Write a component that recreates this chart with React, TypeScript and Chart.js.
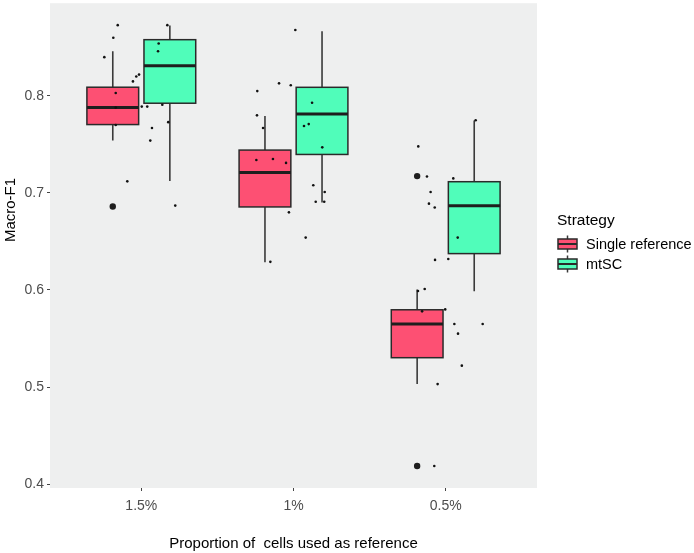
import React, { useEffect, useRef } from 'react';
import { Chart, registerables } from 'chart.js';

Chart.register(...registerables);

const categories = ['1.5%', '1%', '0.5%'];
const seriesNames = ['Single reference', 'mtSC'];
const seriesColors = ['#FD5073', '#50FDBA'];
const yTickValues = [0.4, 0.5, 0.6, 0.7, 0.8];

// [lower whisker, Q1, median, Q3, upper whisker] per category
const singleBoxes = [
  [0.754, 0.7705, 0.788, 0.809, 0.846],
  [0.6286, 0.6856, 0.7212, 0.7442, 0.7794],
  [0.5031, 0.5302, 0.5649, 0.5796, 0.6005],
];
const mtscBoxes = [
  [0.7123, 0.7925, 0.831, 0.858, 0.8727],
  [0.6903, 0.7397, 0.7815, 0.8089, 0.8668],
  [0.5988, 0.6375, 0.6869, 0.7116, 0.7746],
];
const singleOutliers = [[0.686], [], [0.7174, 0.4185]];
const mtscOutliers = [[], [], []];

// jittered raw points: offset from category centre (category units) and value
const jitterOffsets15 = [-0.155, -0.184, -0.243, -0.168, -0.168, -0.168, -0.092, -0.186, -0.055, -0.033, -0.015, 0.003, 0.039, 0.07, 0.059, 0.171, 0.114, 0.11, 0.138, 0.177, 0.223];
const jitterValues15 = [0.873, 0.86, 0.84, 0.803, 0.788, 0.77, 0.712, 0.686, 0.815, 0.82, 0.822, 0.789, 0.789, 0.767, 0.754, 0.873, 0.854, 0.846, 0.791, 0.773, 0.687];
const jitterOffsets1 = [0.012, -0.095, -0.018, -0.238, -0.24, -0.2, 0.122, 0.069, 0.1, 0.189, -0.244, -0.135, -0.049, 0.13, 0.205, 0.146, 0.202, -0.03, 0.08, -0.152];
const jitterValues1 = [0.868, 0.813, 0.811, 0.805, 0.78, 0.767, 0.793, 0.769, 0.771, 0.747, 0.734, 0.735, 0.731, 0.708, 0.701, 0.691, 0.691, 0.68, 0.654, 0.629];
const jitterOffsets05 = [0.197, -0.18, -0.123, 0.05, -0.099, -0.11, -0.072, 0.079, -0.07, 0.017, -0.182, -0.138, -0.155, -0.003, 0.057, 0.243, 0.081, 0.106, -0.053, -0.075];
const jitterValues05 = [0.775, 0.748, 0.717, 0.715, 0.701, 0.689, 0.685, 0.654, 0.631, 0.632, 0.599, 0.601, 0.578, 0.58, 0.565, 0.565, 0.555, 0.522, 0.503, 0.4185];

const FONT = "'Liberation Sans', Arial, Helvetica, sans-serif";
const DODGE = 0.1875;
const BOX_HALF = 0.17;
const Y_MIN = 0.3959;
const Y_MAX = 0.8956;

const allBoxes = [singleBoxes, mtscBoxes];
const allOutliers = [singleOutliers, mtscOutliers];

const boxPlugin = {
  id: 'ggBoxes',
  beforeDraw(chart: any) {
    const { ctx, chartArea } = chart;
    ctx.save();
    ctx.fillStyle = '#ffffff';
    ctx.fillRect(0, 0, chart.width, chart.height);
    ctx.fillStyle = '#EEEFEF';
    ctx.fillRect(chartArea.left, chartArea.top, chartArea.right - chartArea.left, chartArea.bottom - chartArea.top);
    ctx.restore();
  },
  beforeDatasetsDraw(chart: any) {
    const { ctx, scales } = chart;
    const x = scales.x;
    const y = scales.y;
    ctx.save();
    allBoxes.forEach((boxes, s) => {
      boxes.forEach((b, c) => {
        const cx = c + 1 + (s === 0 ? -DODGE : DODGE);
        const xl = x.getPixelForValue(cx - BOX_HALF);
        const xr = x.getPixelForValue(cx + BOX_HALF);
        const xm = x.getPixelForValue(cx);
        const [lo, q1, med, q3, hi] = b.map((v) => y.getPixelForValue(v));
        ctx.strokeStyle = '#3a3a3a';
        ctx.lineWidth = 1.6;
        ctx.beginPath();
        ctx.moveTo(xm, lo);
        ctx.lineTo(xm, q1);
        ctx.moveTo(xm, q3);
        ctx.lineTo(xm, hi);
        ctx.stroke();
        ctx.fillStyle = seriesColors[s];
        ctx.fillRect(xl, q3, xr - xl, q1 - q3);
        ctx.strokeStyle = '#2a2a2a';
        ctx.lineWidth = 1.5;
        ctx.strokeRect(xl, q3, xr - xl, q1 - q3);
        ctx.lineWidth = 3;
        ctx.strokeStyle = '#1e1e1e';
        ctx.beginPath();
        ctx.moveTo(xl, med);
        ctx.lineTo(xr, med);
        ctx.stroke();
      });
    });
    ctx.restore();
  },
  afterDraw(chart: any) {
    const { ctx, chartArea } = chart;
    ctx.save();
    // y axis title
    ctx.translate(15, 210);
    ctx.rotate(-Math.PI / 2);
    ctx.fillStyle = '#000000';
    ctx.font = `15px ${FONT}`;
    ctx.textAlign = 'center';
    ctx.textBaseline = 'alphabetic';
    ctx.fillText('Macro-F1', 0, 0);
    ctx.restore();

    // legend
    ctx.save();
    const lx = chartArea.right + 20;
    ctx.fillStyle = '#000000';
    ctx.font = `15.5px ${FONT}`;
    ctx.textAlign = 'left';
    ctx.textBaseline = 'alphabetic';
    ctx.fillText('Strategy', lx, 225);
    seriesNames.forEach((name, i) => {
      const cy = 244 + i * 20;
      const kx = lx + 1;
      const kw = 19;
      const km = kx + kw / 2;
      ctx.strokeStyle = '#3a3a3a';
      ctx.lineWidth = 1.5;
      ctx.beginPath();
      ctx.moveTo(km, cy - 8.5);
      ctx.lineTo(km, cy + 8.5);
      ctx.stroke();
      ctx.fillStyle = seriesColors[i];
      ctx.fillRect(kx, cy - 5, kw, 10);
      ctx.strokeStyle = '#2a2a2a';
      ctx.strokeRect(kx, cy - 5, kw, 10);
      ctx.lineWidth = 2;
      ctx.beginPath();
      ctx.moveTo(kx, cy);
      ctx.lineTo(kx + kw, cy);
      ctx.stroke();
      ctx.fillStyle = '#000000';
      ctx.font = `14.5px ${FONT}`;
      ctx.textBaseline = 'middle';
      ctx.fillText(name, lx + 29, cy + 0.5);
      ctx.textBaseline = 'alphabetic';
    });
    ctx.restore();
  },
};

function buildJitter() {
  const pts: { x: number; y: number }[] = [];
  const groups = [
    [jitterOffsets15, jitterValues15],
    [jitterOffsets1, jitterValues1],
    [jitterOffsets05, jitterValues05],
  ];
  groups.forEach(([offs, vals], c) => {
    offs.forEach((o, i) => pts.push({ x: c + 1 + o, y: vals[i] }));
  });
  return pts;
}

function buildOutliers() {
  const pts: { x: number; y: number }[] = [];
  allOutliers.forEach((series, s) => {
    series.forEach((vals, c) => {
      vals.forEach((v) => pts.push({ x: c + 1 + (s === 0 ? -DODGE : DODGE), y: v }));
    });
  });
  return pts;
}

export default function App() {
  const canvasRef = useRef<HTMLCanvasElement | null>(null);

  useEffect(() => {
    const canvas = canvasRef.current;
    if (!canvas) return;
    const chart = new Chart(canvas, {
      type: 'scatter',
      data: {
        datasets: [
          {
            label: 'outliers',
            data: buildOutliers(),
            pointRadius: 3.2,
            pointBackgroundColor: '#1e1e1e',
            pointBorderWidth: 0,
            pointHoverRadius: 3.2,
          },
          {
            label: 'points',
            data: buildJitter(),
            pointRadius: 1.3,
            pointBackgroundColor: '#111111',
            pointBorderWidth: 0,
            pointHoverRadius: 1.3,
          },
        ],
      },
      options: {
        responsive: false,
        animation: false,
        events: [],
        layout: { padding: { top: 2, right: 157, left: 0, bottom: 0 } },
        plugins: {
          legend: { display: false },
          tooltip: { enabled: false },
        },
        scales: {
          x: {
            type: 'linear',
            min: 0.4,
            max: 3.6,
            afterBuildTicks: (scale: any) => {
              scale.ticks = categories.map((_, i) => ({ value: i + 1 }));
            },
            afterFit: (scale: any) => {
              scale.height = 65;
              scale.paddingLeft = 0;
              scale.paddingRight = 0;
            },
            ticks: {
              autoSkip: false,
              maxRotation: 0,
              padding: 7,
              color: '#4D4D4D',
              font: { family: FONT, size: 14 },
              callback: (v: any) => categories[Math.round(Number(v)) - 1],
            },
            grid: {
              display: true,
              drawOnChartArea: false,
              drawTicks: true,
              tickLength: 3,
              color: '#444444',
            },
            border: { display: false },
            title: {
              display: true,
              text: 'Proportion of  cells used as reference',
              color: '#000000',
              font: { family: FONT, size: 15 },
              padding: { top: 0, bottom: 0 },
            },
          },
          y: {
            type: 'linear',
            min: Y_MIN,
            max: Y_MAX,
            afterBuildTicks: (scale: any) => {
              scale.ticks = yTickValues.map((v) => ({ value: v }));
            },
            afterFit: (scale: any) => {
              scale.width = 50;
              scale.paddingTop = 0;
              scale.paddingBottom = 0;
            },
            ticks: {
              padding: 3,
              color: '#4D4D4D',
              font: { family: FONT, size: 14 },
              callback: (v: any) => Number(v).toFixed(1),
            },
            grid: {
              display: true,
              drawOnChartArea: false,
              drawTicks: true,
              tickLength: 3,
              color: '#444444',
            },
            border: { display: false },
            title: { display: false },
          },
        },
      },
      plugins: [boxPlugin],
    } as any);
    return () => chart.destroy();
  }, []);

  return (
    <div style={{ position: 'absolute', left: 0, top: 0, width: 694, height: 553 }}>
      <canvas ref={canvasRef} width={694} height={553} style={{ display: 'block' }} />
    </div>
  );
}
